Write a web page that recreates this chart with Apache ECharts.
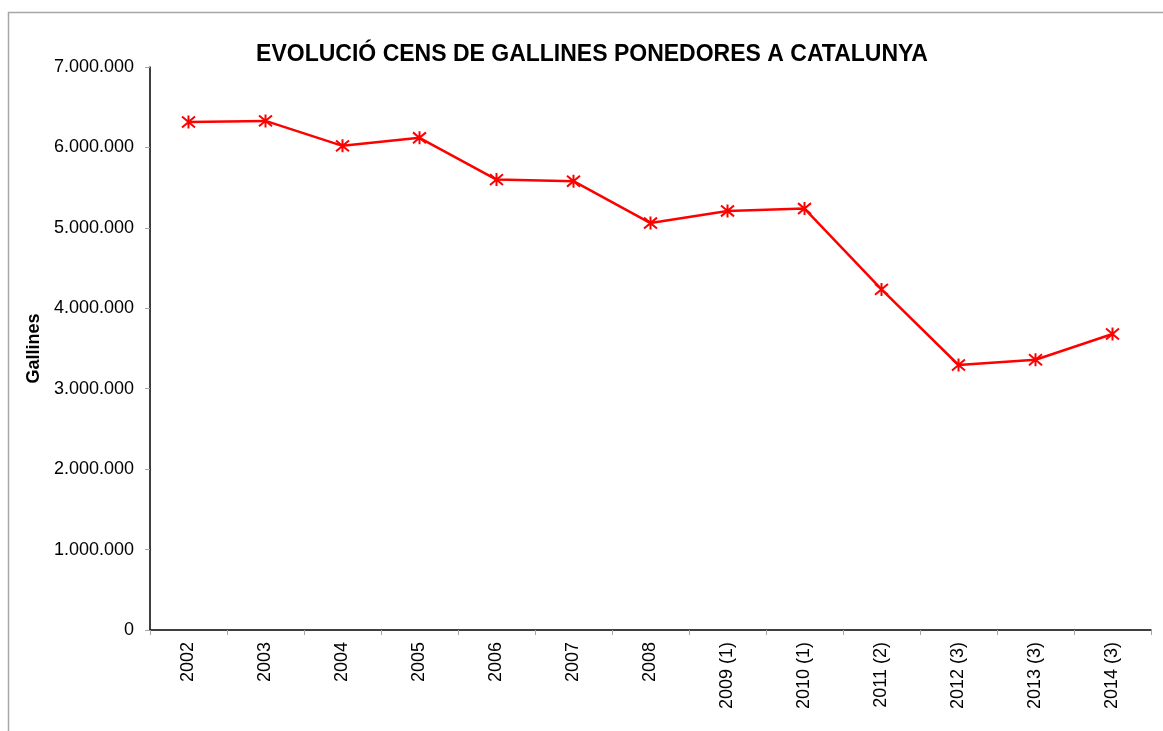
<!DOCTYPE html>
<html>
<head>
<meta charset="utf-8">
<script src="https://cdn.jsdelivr.net/npm/echarts@6/dist/echarts.min.js"></script>
<style>html,body{margin:0;padding:0;background:#fff;}#c{width:1163px;height:731px;}</style>
</head>
<body>
<div id="c"></div>
<script>
var categories = ['2002','2003','2004','2005','2006','2007','2008','2009 (1)','2010 (1)','2011 (2)','2012 (3)','2013 (3)','2014 (3)'];
var gallines = [6316000, 6330000, 6020000, 6120000, 5600000, 5580000, 5060000, 5210000, 5240000, 4235000, 3295000, 3360000, 3680000];
var yTicks = [0, 1000000, 2000000, 3000000, 4000000, 5000000, 6000000, 7000000];

function fmt(v){ return String(Math.round(v)).replace(/\B(?=(\d{3})+(?!\d))/g, '.'); }

var chart = echarts.init(document.getElementById('c'));
chart.setOption({
  animation: false,
  backgroundColor: '#fff',
  graphic: [{
    type: 'rect', left: 6, top: 10, shape: {width: 1300, height: 900},
    style: {fill: 'none', stroke: '#a6a6a6', lineWidth: 1.5}, silent: true
  }],
  title: {
    text: 'EVOLUCIÓ CENS DE GALLINES PONEDORES A CATALUNYA',
    left: 587, textAlign: 'center', top: 38,
    textStyle: {fontFamily: 'Liberation Sans, Arial', fontSize: 23, fontWeight: 'bold', color: '#000'}
  },
  grid: {left: 150, right: 12, top: 67, bottom: 101, containLabel: false},
  xAxis: {
    type: 'category', data: categories, boundaryGap: true,
    axisLine: {lineStyle: {color: '#000', width: 1.5}},
    axisTick: {show: true, length: 5, lineStyle: {color: '#a6a6a6'}},
    axisLabel: {rotate: 90, margin: 12, fontFamily: 'Liberation Sans, Arial', fontSize: 18, color: '#000', interval: 0}
  },
  yAxis: {
    type: 'value', min: 0, max: 7000000, interval: 1000000,
    name: 'Gallines', nameLocation: 'middle', nameGap: 107, nameRotate: 90,
    nameTextStyle: {fontFamily: 'Liberation Sans, Arial', fontSize: 18, fontWeight: 'bold', color: '#000'},
    axisLine: {show: true, lineStyle: {color: '#000', width: 1.5}},
    axisTick: {show: true, length: 5, lineStyle: {color: '#a6a6a6'}},
    splitLine: {show: false},
    axisLabel: {margin: 16, padding: [4, 0, 0, 0], fontFamily: 'Liberation Sans, Arial', fontSize: 18, color: '#000',
      formatter: function(v){ return yTicks.indexOf(v) >= 0 ? fmt(v) : ''; }}
  },
  series: [{
    type: 'line', data: gallines,
    lineStyle: {color: '#ff0000', width: 2.5},
    symbol: 'path://M0,0L10,10M10,0L0,10M5,-1L5,11',
    symbolSize: 13,
    itemStyle: {color: 'none', borderColor: '#ff0000', borderWidth: 2},
    showSymbol: true
  }]
});
</script>
</body>
</html>
